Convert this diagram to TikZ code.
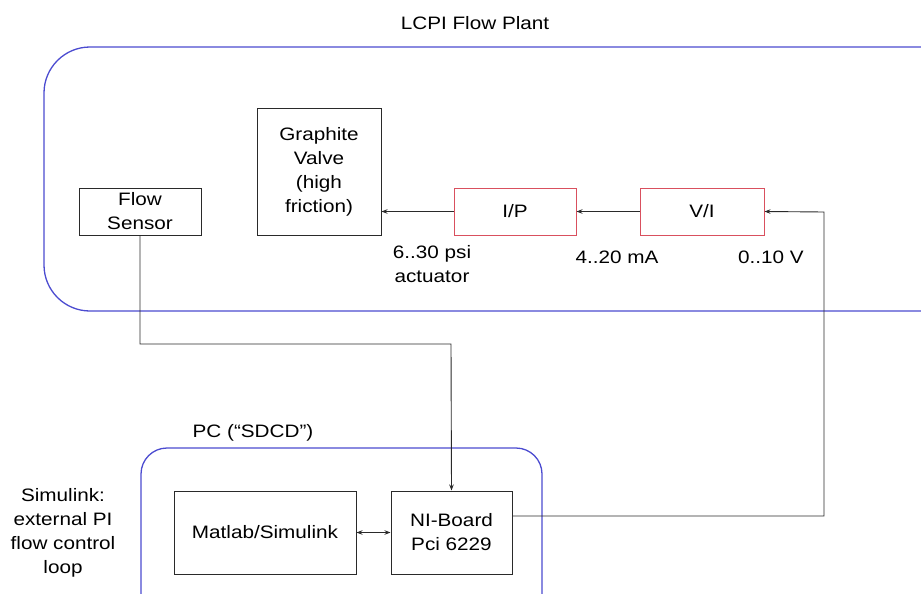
\documentclass[tikz,border=0pt]{standalone}
\usepackage{fontspec}
\setmainfont{Liberation Sans}[FakeStretch=1.15]
\usetikzlibrary{arrows.meta}
\definecolor{grpblue}{HTML}{4B4BD0}
\definecolor{redbox}{HTML}{D9505E}
\definecolor{ink}{HTML}{2A2A2A}
\tikzset{
  blk/.style={draw=ink, line width=1pt, fill=white, text=black, align=center, inner sep=0pt},
  redblk/.style={draw=redbox, line width=1pt, fill=white, text=black, align=center, inner sep=0pt},
  group/.style={draw=grpblue, line width=1.3pt},
  wire/.style={draw=ink, line width=0.9pt},
  arr/.style={wire, -{Stealth[length=6pt,width=4.5pt]}},
  lbl/.style={text=black, align=center, inner sep=0pt},
}
\begin{document}
\begin{tikzpicture}[x=1pt,y=-1pt, font=\fontsize{18}{24}\selectfont]
\useasboundingbox (0,0) rectangle (921,594);
\clip (0,0) rectangle (921,594);
% groups
\draw[group, rounded corners=46pt] (44,47) rectangle (968,311);
\draw[group, rounded corners=26pt] (141,448) rectangle (542,640);
\node[lbl] (plantlbl) at (475,23) {LCPI Flow Plant};
\node[lbl] (pclbl) at (253,433) {PC (“SDCD”)};
% blocks
\node[blk, minimum width=122pt, minimum height=47pt] (fs) at (140,211.5) {Flow\\Sensor};
\node[blk, minimum width=124pt, minimum height=127pt] (gv) at (319,171.5) {Graphite\\Valve\\(high\\friction)};
\node[redblk, minimum width=122pt, minimum height=47pt] (ip) at (515,211.5) {I/P};
\node[redblk, minimum width=124pt, minimum height=47pt] (vi) at (702,211.5) {V/I};
\node[blk, minimum width=182pt, minimum height=83pt] (ml) at (265,532.5) {Matlab/Simulink};
\node[blk, minimum width=121pt, minimum height=83pt] (ni) at (451.5,532.5) {NI-Board\\Pci 6229};
% labels
\node[lbl] (l1) at (432,264) {6..30 psi\\actuator};
\node[lbl] (l2) at (617,257) {4..20 mA};
\node[lbl] (l3) at (771,257) {0..10 V};
\node[lbl] (sim) at (63,533) {Simulink:\\external PI\\flow control\\loop};
% connectors
\coordinate (vin) at (824,212);
\draw[arr] (ip.west) -- (gv.east |- ip.west);
\draw[arr] (vi.west) -- (ip.east);
\draw[arr] (ni.east |- 0,516) -| (vin) -- (vi.east);
\draw[arr] (fs.south) |- (451,344) -- (ni.north);
\draw[wire, {Stealth[length=6pt,width=4.5pt]}-{Stealth[length=6pt,width=4.5pt]}] (ml.east) -- (ni.west);
\end{tikzpicture}
\end{document}
